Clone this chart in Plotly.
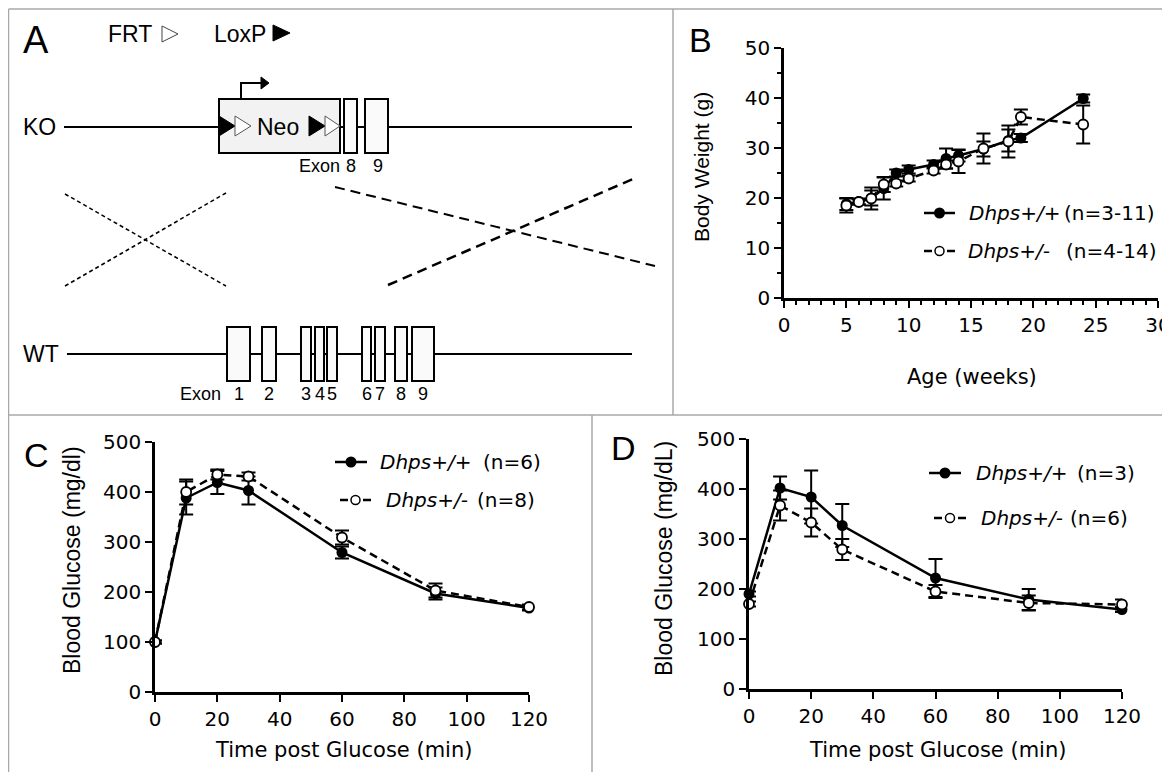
import plotly.graph_objects as go

# ---------------- data ----------------
# Panel B: body weight (g) vs age (weeks)
b_age_wt = [5, 6, 7, 8, 9, 10, 12, 13, 14, 16, 18, 19, 24]
b_wt = [18.8, 19.3, 20.0, 21.9, 25.0, 25.7, 26.7, 27.9, 28.5, 29.8, 31.5, 32.0, 39.9]
b_wt_err = [1.2, 0.6, 1.5, 2.2, 0.7, 0.8, 0.8, 2.0, 1.2, 1.5, 2.2, 0.8, 0.8]
b_age_het = [5, 6, 7, 8, 9, 10, 12, 13, 14, 16, 18, 19, 24]
b_het = [18.5, 19.2, 19.9, 22.7, 22.9, 23.9, 25.5, 26.7, 27.3, 29.9, 31.3, 36.2, 34.7]
b_het_err = [1.4, 0.5, 2.2, 1.5, 0.6, 0.6, 0.6, 0.8, 2.3, 3.0, 3.2, 1.5, 3.8]
b_xticks = [0, 5, 10, 15, 20, 25, 30]
b_yticks = [0, 10, 20, 30, 40, 50]

# Panel C: glucose tolerance (mg/dl)
c_time = [0, 10, 20, 30, 60, 90, 120]
c_wt = [100, 388, 419, 403, 279, 197, 168]
c_wt_err = [3, 33, 23, 28, 12, 12, 5]
c_het = [100, 400, 435, 431, 309, 203, 170]
c_het_err = [3, 25, 10, 8, 14, 14, 5]

# Panel D: glucose tolerance (mg/dL)
d_time = [0, 10, 20, 30, 60, 90, 120]
d_wt = [190, 402, 384, 327, 222, 179, 159]
d_wt_err = [5, 23, 53, 43, 38, 21, 5]
d_het = [170, 367, 333, 279, 195, 172, 169]
d_het_err = [5, 30, 28, 21, 13, 15, 10]

glc_xticks = [0, 20, 40, 60, 80, 100, 120]
glc_yticks = [0, 100, 200, 300, 400, 500]

# schematic (panel A) exon labels
wt_exon_labels = ["1", "2", "3", "4", "5", "6", "7", "8", "9"]
ko_exon_labels = ["8", "9"]

# ---------------- helpers ----------------
# page body has an 8px margin: figure is placed at (8, 8) in the window
OFF = 8
W, H = 1162, 764


def X(p):
    return (p - OFF) / W


def Y(p):
    return 1 - (p - OFF) / H


shapes = []
annotations = []

TICKFONT = "DejaVu Sans"
ARIAL = "Liberation Sans, Arial, sans-serif"


def line(x0, y0, x1, y1, color="black", width=2, dash=None):
    d = dict(type="line", xref="paper", yref="paper", x0=X(x0), y0=Y(y0),
             x1=X(x1), y1=Y(y1), line=dict(color=color, width=width))
    if dash:
        d["line"]["dash"] = dash
    shapes.append(d)


def rect(x0, y0, x1, y1, fill="white", width=2):
    shapes.append(dict(type="rect", xref="paper", yref="paper", x0=X(x0), y0=Y(y1),
                       x1=X(x1), y1=Y(y0), fillcolor=fill,
                       line=dict(color="black", width=width)))


def poly(pts, fill, lc="black", lw=1, close=True):
    path = "M " + " L ".join(f"{X(a):.5f},{Y(b):.5f}" for a, b in pts)
    if close:
        path += " Z"
    shapes.append(dict(type="path", xref="paper", yref="paper", path=path,
                       fillcolor=fill, line=dict(color=lc, width=lw)))


def circle(cx, cy, r, fill, lw=0):
    shapes.append(dict(type="circle", xref="paper", yref="paper",
                       x0=X(cx - r), x1=X(cx + r), y0=Y(cy + r), y1=Y(cy - r),
                       fillcolor=fill, line=dict(color="black", width=lw)))


def text(t, x, y, size, family=TICKFONT, xanchor="center", angle=0):
    annotations.append(dict(text=t, x=X(x), y=Y(y), xref="paper", yref="paper",
                            showarrow=False, xanchor=xanchor, yanchor="middle",
                            textangle=angle, borderpad=0,
                            font=dict(family=family, size=size, color="black")))


# ---------------- panel borders ----------------
GRAY = "#a8a8a8"
line(8.5, 9, 1170, 9, GRAY, 1.5)
line(8.5, 9, 8.5, 772, GRAY, 1.5)
line(673, 9, 673, 415, GRAY, 1.5)
line(8.5, 415, 1170, 415, GRAY, 1.5)
line(592, 415, 592, 772, GRAY, 1.5)

# ---------------- panel A schematic ----------------
text("A", 36, 40, 38, ARIAL)
text("FRT", 107, 34, 23, ARIAL, xanchor="left")
poly([(162, 26), (178, 34), (162, 42)], "white", "#444", 1)
text("LoxP", 213, 34, 23, ARIAL, xanchor="left")
poly([(273, 25), (290, 33), (273, 41)], "black", "black", 1)

# KO allele
text("KO", 22, 127, 23, ARIAL, xanchor="left")
line(64, 127, 632, 127, "black", 2)
# promoter arrow
poly([(241, 99), (241, 83), (262, 83)], "rgba(0,0,0,0)", "black", 2, close=False)
poly([(261, 77), (269, 83), (261, 89)], "black", "black", 1)
rect(219, 99, 340, 153, fill="#f2f2f2", width=2)
poly([(219, 116), (235, 126), (219, 136)], "black", "black", 1)
poly([(235, 116), (251, 126), (235, 136)], "white", "#555", 1)
text("Neo", 278, 127, 23, ARIAL)
poly([(309, 116), (325, 126), (309, 136)], "black", "black", 1)
poly([(325, 116), (340, 126), (325, 136)], "white", "#555", 1)
ko_exons = [(344, 357), (365, 388)]
for (a, b) in ko_exons:
    rect(a, 99, b, 153, fill="#fafafa", width=2)
text("Exon", 298, 166, 18, ARIAL, xanchor="left")
for (a, b), lab in zip(ko_exons, ko_exon_labels):
    text(lab, (a + b) / 2 + 1, 166, 18, ARIAL)

# crossover lines
line(65, 194, 226, 286, "black", 1.5, "4px,3px")
line(65, 286, 226, 193, "black", 1.5, "4px,3px")
line(335, 187, 655, 266, "black", 2, "10px,6px")
line(388, 285, 633, 179, "black", 2.5, "10px,6px")

# WT allele
text("WT", 22, 354, 23, ARIAL, xanchor="left")
line(67, 354, 632, 354, "black", 2)
wt_exons = [(227, 250), (262, 276), (301, 311), (315, 324), (327, 337),
            (362, 371), (375, 385), (395, 407), (412, 434)]
for (a, b) in wt_exons:
    rect(a, 327, b, 381, fill="#fafafa", width=2)
text("Exon", 200, 394, 18, ARIAL)
for (a, b), lab in zip(wt_exons, wt_exon_labels):
    text(lab, (a + b) / 2, 394, 18, ARIAL)

# ---------------- figure & traces ----------------
fig = go.Figure()

WT_LINE = dict(color="black", width=2.5)
HET_LINE = dict(color="black", width=2.5, dash="8px,5px")
WT_MARK = dict(color="black", size=11, line=dict(width=0))
HET_MARK = dict(color="white", size=10, line=dict(color="black", width=1.8))


def err(a):
    return dict(type="data", array=a, symmetric=True, color="black", thickness=2, width=7)


panels = [
    ("x", "y", b_age_wt, b_wt, b_wt_err, b_age_het, b_het, b_het_err),
    ("x2", "y2", c_time, c_wt, c_wt_err, c_time, c_het, c_het_err),
    ("x3", "y3", d_time, d_wt, d_wt_err, d_time, d_het, d_het_err),
]
for xa, ya, xw, yw, ew, xh, yh, eh in panels:
    fig.add_trace(go.Scatter(x=xw, y=yw, mode="lines+markers", line=WT_LINE, marker=WT_MARK,
                             error_y=err(ew), xaxis=xa, yaxis=ya, cliponaxis=False))
    fig.add_trace(go.Scatter(x=xh, y=yh, mode="lines+markers", line=HET_LINE, marker=HET_MARK,
                             error_y=err(eh), xaxis=xa, yaxis=ya, cliponaxis=False))


def axis(domain, rng, tickvals, anchor, minor=None):
    d = dict(domain=domain, range=rng, tickvals=tickvals, anchor=anchor,
             showline=True, linecolor="black", linewidth=2.5, mirror=False,
             ticks="outside", ticklen=7, tickwidth=2, tickcolor="black",
             showgrid=False, zeroline=False, fixedrange=True, automargin=False,
             ticklabeloverflow="allow",
             tickfont=dict(family=TICKFONT, size=20, color="black"))
    if minor:
        d["minor"] = dict(ticks="outside", ticklen=4, tickwidth=1.5, tickcolor="black",
                          dtick=minor, showgrid=False)
    return d


fig.update_layout(
    template="none",
    width=W, height=H, margin=dict(l=0, r=0, t=0, b=0, pad=0, autoexpand=False),
    paper_bgcolor="white", plot_bgcolor="rgba(0,0,0,0)", showlegend=False,
    xaxis=axis([X(784), X(1158)], [0, 30], b_xticks, "y", minor=1),
    yaxis=axis([Y(298), Y(48)], [0, 50], b_yticks, "x", minor=5),
    xaxis2=axis([X(155), X(529)], [0, 120], glc_xticks, "y2"),
    yaxis2=axis([Y(692), Y(442)], [0, 500], glc_yticks, "x2"),
    xaxis3=axis([X(749), X(1122)], [0, 120], glc_xticks, "y3"),
    yaxis3=axis([Y(689), Y(439)], [0, 500], glc_yticks, "x3"),
)

# ---------------- panel labels & titles ----------------
text("B", 700, 40, 34, ARIAL)
text("Body Weight (g)", 702, 167, 21, ARIAL, angle=-90)
text("Age (weeks)", 972, 377, 21)

text("C", 36, 455, 34, ARIAL)
text("Blood Glucose (mg/dl)", 72, 560, 23, ARIAL, angle=-90)
text("Time post Glucose (min)", 343, 750, 21)

text("D", 623, 448, 34, ARIAL)
text("Blood Glucose (mg/dL)", 664, 559, 23, ARIAL, angle=-90)
text("Time post Glucose (min)", 937, 750, 21)


# ---------------- legends ----------------
def legend_wt(x0, x1, y):
    line(x0, y, x1, y, "black", 2.5)
    circle((x0 + x1) / 2, y, 5.5, "black")


def legend_het(x0, x1, y):
    cx = (x0 + x1) / 2
    line(x0, y, x0 + 8, y, "black", 2.5)
    line(x1 - 8, y, x1, y, "black", 2.5)
    circle(cx, y, 4.5, "white", 1.5)


legend_wt(924, 955, 213)
text("<i>Dhps+/+</i>", 968, 213, 20, xanchor="left")
text("(n=3-11)", 1063, 213, 20, xanchor="left")
legend_het(924, 955, 251)
text("<i>Dhps+/-</i>", 967, 251, 20, xanchor="left")
text("(n=4-14)", 1065, 251, 20, xanchor="left")

legend_wt(335, 367, 462)
text("<i>Dhps+/+</i>", 379, 462, 20, xanchor="left")
text("(n=6)", 482, 462, 20, xanchor="left")
legend_het(340, 371, 500)
text("<i>Dhps+/-</i>", 385, 500, 20, xanchor="left")
text("(n=8)", 476, 500, 20, xanchor="left")

legend_wt(929, 961, 473)
text("<i>Dhps+/+</i>", 975, 473, 20, xanchor="left")
text("(n=3)", 1076, 473, 20, xanchor="left")
legend_het(934, 966, 518)
text("<i>Dhps+/-</i>", 980, 518, 20, xanchor="left")
text("(n=6)", 1069, 518, 20, xanchor="left")

fig.update_layout(shapes=shapes, annotations=annotations)
fig.write_html("out.html")
